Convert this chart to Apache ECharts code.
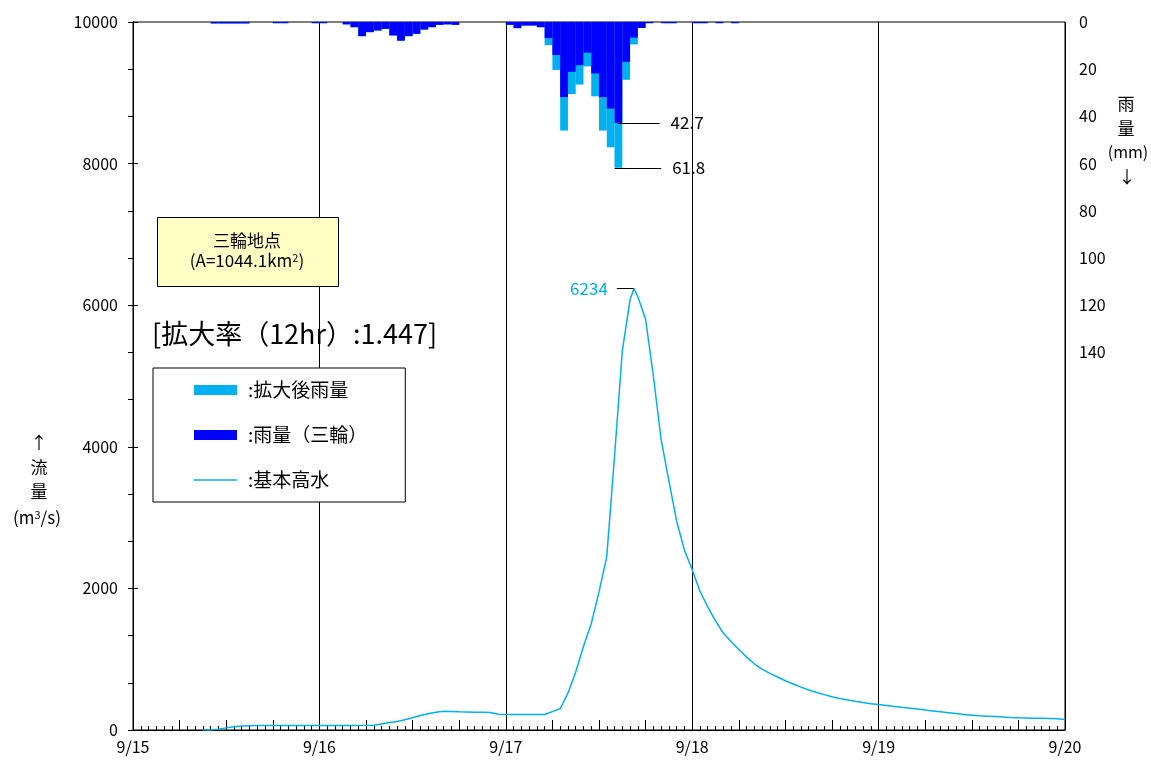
<!DOCTYPE html>
<html>
<head>
<meta charset="utf-8">
<script src="https://cdn.jsdelivr.net/npm/echarts@6/dist/echarts.min.js"></script>
<style>
html,body{margin:0;padding:0;background:#fff;}
#chart{width:1151px;height:762px;}
</style>
</head>
<body>
<div id="chart"></div>
<script>
// ---- data (hours counted from 9/15 00:00) ----
const dayLabels = ['9/15','9/16','9/17','9/18','9/19','9/20'];

const rainHours = [10,11,12,13,14,18,19,23,24,
  27,28,29,30,31,32,33,34,35,36,37,38,39,40,41,
  48,49,50,51,52,
  53,54,55,56,57,58,59,60,61,62,63,64,
  65,66,68,69,72,73,75,77];
const rainObserved = [0.6,0.6,0.6,0.6,0.6,0.5,0.5,0.5,0.5,
  1.0,2.2,6.0,4.3,3.6,2.9,5.7,7.9,6.0,5.0,3.2,2.2,1.2,1.0,1.2,
  1.2,2.6,1.5,1.5,2.2,
  6.8,14.0,31.8,21.1,18.3,13.0,21.8,31.8,36.7,42.7,16.9,6.6,
  2.5,0.5,0.5,0.5,0.5,0.5,0.5,0.5];
const rainEnlarged = [0.6,0.6,0.6,0.6,0.6,0.5,0.5,0.5,0.5,
  1.0,2.2,6.0,4.3,3.6,2.9,5.7,7.9,6.0,5.0,3.2,2.2,1.2,1.0,1.2,
  1.2,2.6,1.5,1.5,2.2,
  9.8,20.3,46.0,30.5,26.5,18.8,31.5,46.0,53.1,61.8,24.5,9.5,
  2.5,0.5,0.5,0.5,0.5,0.5,0.5,0.5];

const flowHours = [9,10,11,12,13,14,15,16,20,24,28,31,32,33,34,35,36,37,38,39,40,41,42,43,44,45,46,47,48,50,52,53,
  54,55,56,57,58,59,60,61,62,63,64,64.5,65,66,67,68,69,70,71,72,
  73,74,75,76,77,78,79,80,81,82,83,84,85,86,87,88,89,90,91,92,93,94,95,96,
  97,98,99,100,101,102,103,104,105,106,107,108,109,110,111,112,113,114,115,116,117,118,119,120];
const flowValues = [0,0,10,30,45,55,60,62,63,64,65,66,85,105,120,145,172,205,230,250,265,262,258,255,252,250,248,222,220,219,219,219,
  260,300,520,820,1180,1500,1950,2450,3866,5350,6080,6234,6120,5800,5000,4100,3520,2950,2540,2265,
  1960,1740,1540,1370,1250,1136,1030,935,860,800,748,695,650,605,565,530,500,470,445,425,405,388,372,360,
  345,333,320,308,295,282,270,258,245,232,220,210,200,195,190,184,178,173,170,167,165,163,160,150];

const peakFlow = 6234;
const peakHour = 64.5;
const rainMaxObs = 42.7;
const rainMaxEnl = 61.8;
const flowTicks = [0,2000,4000,6000,8000,10000];

// ---- build ----
const FONT = '"Noto Sans CJK JP","Noto Sans",sans-serif';
const LIGHT = '#00B0F0';
const DARK = '#0000FF';

function pairs(xs, ys){ return xs.map((x,i)=>[x, ys[i]]); }

function rainRender(params, api){
  const h = api.value(0), v = api.value(1);
  const p0 = api.coord([h, 0]);
  const p1 = api.coord([h + 1, v]);
  return {
    type: 'rect',
    shape: {x: p0[0], y: Math.min(p0[1], p1[1]), width: p1[0] - p0[0], height: Math.abs(p1[1] - p0[1])},
    style: {fill: api.visual('color')}
  };
}

const chart = echarts.init(document.getElementById('chart'), null, {renderer: 'canvas'});
const option = {
  animation: false,
  grid: {left: 133, right: 86, top: 22, bottom: 32, show: true, borderColor: '#000', borderWidth: 1, backgroundColor: 'transparent'},
  xAxis: [
    {type: 'value', min: 0, max: 120, interval: 6,
     axisLine: {show: true, lineStyle: {color: '#000', width: 1}},
     axisTick: {show: true, inside: true, length: 10, lineStyle: {color: '#000'}},
     minorTick: {show: true, splitNumber: 6, length: 4, lineStyle: {color: '#000'}},
     axisLabel: {show: false}, splitLine: {show: false}, minorSplitLine: {show: false}},
    {type: 'value', min: 0, max: 120, interval: 24, position: 'bottom',
     axisLine: {show: false}, axisTick: {show: false}, minorTick: {show: false},
     axisLabel: {show: true, margin: 9, fontSize: 16, color: '#000', fontFamily: FONT,
       formatter: v => dayLabels[Math.round(v / 24)]},
     splitLine: {show: true, lineStyle: {color: '#000', width: 1}}}
  ],
  yAxis: [
    {type: 'value', min: flowTicks[0], max: flowTicks[flowTicks.length-1], interval: 2000,
     axisLine: {show: true, lineStyle: {color: '#000'}},
     axisTick: {show: true, inside: true, length: 5, lineStyle: {color: '#000'}},
     minorTick: {show: false}, minorSplitLine: {show: false},
     axisLabel: {margin: 15, fontSize: 16, color: '#000', fontFamily: FONT, formatter: v => String(v)},
     splitLine: {show: false}},
    {type: 'value', min: 0, max: 300, interval: 20, inverse: true, position: 'right',
     axisLine: {show: true, lineStyle: {color: '#000'}},
     axisTick: {show: true, inside: true, length: 5, lineStyle: {color: '#000'}},
     minorTick: {show: false}, minorSplitLine: {show: false},
     axisLabel: {margin: 14, fontSize: 16, color: '#000', fontFamily: FONT,
       formatter: v => (v <= 140 ? String(v) : '')},
     splitLine: {show: false}}
  ],
  legend: {
    left: 153, top: 368, orient: 'vertical', selectedMode: false,
    data: [
      {name: '拡大後雨量', icon: 'rect'},
      {name: '雨量（三輪）', icon: 'rect'},
      {name: '基本高水', icon: 'path://M0,0L43,0L43,1.5L0,1.5Z'}
    ],
    itemWidth: 43, itemHeight: 10, itemGap: 25,
    padding: [12, 38, 12, 41],
    borderColor: '#000', borderWidth: 1, backgroundColor: '#fff',
    formatter: n => ':' + n,
    textStyle: {fontSize: 19, color: '#000', fontFamily: FONT, lineHeight: 20, padding: [0, 0, 0, 6]}
  },
  series: [
    {type: 'custom', name: '拡大後雨量', xAxisIndex: 0, yAxisIndex: 1,
     itemStyle: {color: LIGHT}, renderItem: rainRender,
     encode: {x: 0, y: 1}, data: pairs(rainHours, rainEnlarged), z: 2},
    {type: 'custom', name: '雨量（三輪）', xAxisIndex: 0, yAxisIndex: 1,
     itemStyle: {color: DARK}, renderItem: rainRender,
     encode: {x: 0, y: 1}, data: pairs(rainHours, rainObserved), z: 3},
    {type: 'line', name: '基本高水', xAxisIndex: 0, yAxisIndex: 0,
     data: pairs(flowHours, flowValues), symbol: 'none', smooth: false,
     lineStyle: {color: LIGHT, width: 1.5}, itemStyle: {color: LIGHT}, z: 4,
     markLine: {silent: true, symbol: 'none',
       lineStyle: {color: '#000', width: 1, type: 'solid'},
       label: {show: true, position: 'start', distance: 9, color: LIGHT, fontSize: 17, fontFamily: FONT,
         formatter: String(peakFlow)},
       data: [[{coord: [62.3, peakFlow]}, {coord: [peakHour, peakFlow]}]]}},
    {type: 'line', name: 'rainNote', xAxisIndex: 0, yAxisIndex: 1, data: [], symbol: 'none', silent: true, z: 5,
     markLine: {silent: true, symbol: 'none',
       lineStyle: {color: '#000', width: 1, type: 'solid'},
       label: {show: true, position: 'end', distance: 11, color: '#000', fontSize: 17, fontFamily: FONT},
       data: [
         [{coord: [62.4, rainMaxObs], label: {formatter: String(rainMaxObs)}}, {coord: [67.8, rainMaxObs]}],
         [{coord: [62.0, rainMaxEnl], label: {formatter: String(rainMaxEnl)}}, {coord: [68.0, rainMaxEnl]}]
       ]}}
  ],
  graphic: [
    {type: 'rect', left: 157, top: 217, shape: {width: 181, height: 69},
     style: {fill: '#FFFFC5', stroke: '#000', lineWidth: 1}, z: 10},
    {type: 'text', x: 247, y: 241, z: 11,
     style: {text: '三輪地点', fontSize: 17, fontFamily: FONT, fill: '#000', align: 'center', verticalAlign: 'middle'}},
    {type: 'text', x: 247, y: 261, z: 11,
     style: {text: '(A=1044.1km{sup|2})', fontSize: 17, fontFamily: FONT, fill: '#000', align: 'center', verticalAlign: 'middle',
       rich: {sup: {fontSize: 11, fontFamily: FONT, fill: '#000', verticalAlign: 'top', padding: [0, 0, 7, 0]}}}},
    {type: 'text', x: 152, y: 334, z: 11,
     style: {text: '[拡大率（12hr）:1.447]', fontSize: 27, fontFamily: FONT, fill: '#000', align: 'left', verticalAlign: 'middle'}},
    {type: 'text', x: 39, y: 443, z: 11,
     style: {text: '↑', fontSize: 17, fontFamily: FONT, fill: '#000', align: 'center', verticalAlign: 'middle'}},
    {type: 'text', x: 39, y: 468, z: 11,
     style: {text: '流', fontSize: 17, fontFamily: FONT, fill: '#000', align: 'center', verticalAlign: 'middle'}},
    {type: 'text', x: 39, y: 492, z: 11,
     style: {text: '量', fontSize: 17, fontFamily: FONT, fill: '#000', align: 'center', verticalAlign: 'middle'}},
    {type: 'text', x: 37, y: 518, z: 11,
     style: {text: '(m{sup|3}/s)', fontSize: 17, fontFamily: FONT, fill: '#000', align: 'center', verticalAlign: 'middle',
       rich: {sup: {fontSize: 11, fontFamily: FONT, fill: '#000', verticalAlign: 'top', padding: [0, 0, 7, 0]}}}},
    {type: 'text', x: 1126, y: 104, z: 11,
     style: {text: '雨', fontSize: 17, fontFamily: FONT, fill: '#000', align: 'center', verticalAlign: 'middle'}},
    {type: 'text', x: 1126, y: 129, z: 11,
     style: {text: '量', fontSize: 17, fontFamily: FONT, fill: '#000', align: 'center', verticalAlign: 'middle'}},
    {type: 'text', x: 1128, y: 152, z: 11,
     style: {text: '(mm)', fontSize: 16, fontFamily: FONT, fill: '#000', align: 'center', verticalAlign: 'middle'}},
    {type: 'text', x: 1127, y: 177, z: 11,
     style: {text: '↓', fontSize: 17, fontFamily: FONT, fill: '#000', align: 'center', verticalAlign: 'middle'}}
  ]
};
chart.setOption(option);
</script>
</body>
</html>
